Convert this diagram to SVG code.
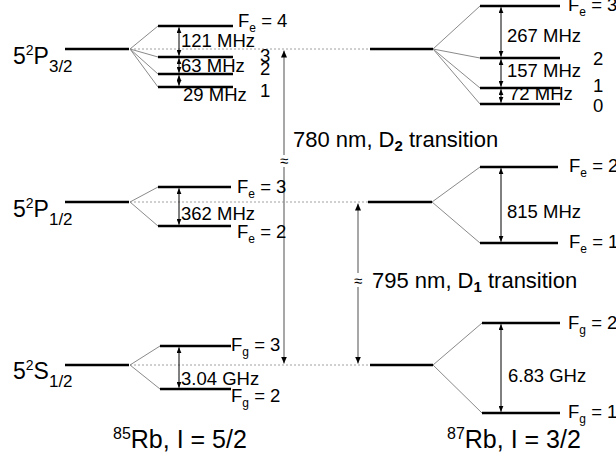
<svg xmlns="http://www.w3.org/2000/svg" width="616" height="461" viewBox="0 0 616 461">
<defs>
<marker id="ah" markerWidth="6" markerHeight="5" refX="6" refY="2.5" orient="auto-start-reverse" markerUnits="userSpaceOnUse"><path d="M0,0L6,2.5L0,5z" fill="#000"/></marker>
<marker id="ahg" markerWidth="7" markerHeight="6" refX="7" refY="3" orient="auto-start-reverse" markerUnits="userSpaceOnUse"><path d="M0,0L7,3L0,6z" fill="#000"/></marker>
</defs>
<style>
text{font-family:"Liberation Sans",Arial,sans-serif;fill:#000}
.lvl{stroke:#000;stroke-width:2.5}
.fan{stroke:#8a8a8a;stroke-width:1;fill:none}
.dot{stroke:#a0a0a0;stroke-width:1;stroke-dasharray:2,2}
.arr{stroke:#000;stroke-width:1;fill:none;marker-start:url(#ah);marker-end:url(#ah)}
.long{stroke:#8a8a8a;stroke-width:1.5;fill:none;marker-end:url(#ahg)}
.t{font-size:18.5px}
.big{font-size:23px}
.tr{font-size:22px}
.ap{font-size:15px}
</style>

<g id="connectors">
<line class="dot" x1="130" y1="49" x2="370" y2="49"/>
<line class="dot" x1="130" y1="202" x2="368" y2="202"/>
<line class="dot" x1="130" y1="365" x2="370" y2="365"/>
<path class="long" d="M284,155 L284,50.5"/>
<path class="long" d="M284,167 L284,363.5"/>
<path class="long" d="M358,273 L358,203.5"/>
<path class="long" d="M358,287 L358,363.5"/>
</g>

<g id="rb85-P32">
<line class="lvl" x1="65" y1="49" x2="129" y2="49"/>
<path class="fan" d="M130,49L158,26M130,49L158,57M130,49L158,74M130,49L158,87"/>
<line class="lvl" x1="158" y1="26" x2="233" y2="26"/>
<line class="lvl" x1="158" y1="57" x2="233" y2="57"/>
<line class="lvl" x1="158" y1="74" x2="233" y2="74"/>
<line class="lvl" x1="158" y1="87" x2="233" y2="87"/>
<path class="arr" d="M179,27.3L179,55.7"/>
<path class="arr" d="M179,58.3L179,72.7"/>
<path class="arr" d="M179,75.3L179,85.7"/>
<text class="big" x="13" y="64">5<tspan font-size="14" dy="-9">2</tspan><tspan dy="9">P</tspan><tspan font-size="17" dy="8">3/2</tspan></text>
<text class="t" x="181" y="47">121 MHz</text>
<text class="t" x="181" y="72">63 MHz</text>
<text class="t" x="183" y="101">29 MHz</text>
<text class="t" x="238" y="27">F<tspan font-size="12" dy="5">e</tspan><tspan dy="-5"> = 4</tspan></text>
<text class="t" x="260" y="62">3</text>
<text class="t" x="260" y="75">2</text>
<text class="t" x="260" y="97">1</text>
</g>

<g id="rb85-P12">
<line class="lvl" x1="65" y1="202" x2="129" y2="202"/>
<path class="fan" d="M130,202L158,187M130,202L158,226"/>
<line class="lvl" x1="158" y1="187" x2="231" y2="187"/>
<line class="lvl" x1="158" y1="226" x2="231" y2="226"/>
<path class="arr" d="M179,188.3L179,224.7"/>
<text class="big" x="13" y="217">5<tspan font-size="14" dy="-9">2</tspan><tspan dy="9">P</tspan><tspan font-size="17" dy="8">1/2</tspan></text>
<text class="t" x="181" y="220">362 MHz</text>
<text class="t" x="237" y="193">F<tspan font-size="12" dy="5">e</tspan><tspan dy="-5"> = 3</tspan></text>
<text class="t" x="237" y="238">F<tspan font-size="12" dy="5">e</tspan><tspan dy="-5"> = 2</tspan></text>
</g>

<g id="rb85-S12">
<line class="lvl" x1="65" y1="365" x2="129" y2="365"/>
<path class="fan" d="M130,365L160,346M130,365L160,389"/>
<line class="lvl" x1="160" y1="346" x2="231" y2="346"/>
<line class="lvl" x1="160" y1="389" x2="231" y2="389"/>
<path class="arr" d="M179,347.3L179,387.7"/>
<text class="big" x="13" y="379">5<tspan font-size="14" dy="-9">2</tspan><tspan dy="9">S</tspan><tspan font-size="17" dy="8">1/2</tspan></text>
<text class="t" x="181" y="385">3.04 GHz</text>
<text class="t" x="231" y="351">F<tspan font-size="12" dy="5">g</tspan><tspan dy="-5"> = 3</tspan></text>
<text class="t" x="231" y="402">F<tspan font-size="12" dy="5">g</tspan><tspan dy="-5"> = 2</tspan></text>
</g>

<g id="rb87-P32">
<line class="lvl" x1="370" y1="49" x2="433" y2="49"/>
<path class="fan" d="M433,49L480,6M433,49L480,58M433,49L480,88M433,49L480,104"/>
<line class="lvl" x1="480" y1="6" x2="560" y2="6"/>
<line class="lvl" x1="480" y1="58" x2="560" y2="58"/>
<line class="lvl" x1="480" y1="88" x2="560" y2="88"/>
<line class="lvl" x1="480" y1="104" x2="560" y2="104"/>
<path class="arr" d="M501,7.3L501,56.7"/>
<path class="arr" d="M501,59.3L501,86.7"/>
<path class="arr" d="M501,89.3L501,102.7"/>
<text class="t" x="507" y="42">267 MHz</text>
<text class="t" x="507" y="77">157 MHz</text>
<text class="t" x="509" y="100">72 MHz</text>
<text class="t" x="568" y="11">F<tspan font-size="12" dy="5">e</tspan><tspan dy="-5"> = 3</tspan></text>
<text class="t" x="593" y="65">2</text>
<text class="t" x="593" y="92">1</text>
<text class="t" x="593" y="112">0</text>
</g>

<g id="rb87-P12">
<line class="lvl" x1="368" y1="202" x2="432" y2="202"/>
<path class="fan" d="M432,202L480,167M432,202L480,243"/>
<line class="lvl" x1="480" y1="167" x2="558" y2="167"/>
<line class="lvl" x1="480" y1="243" x2="558" y2="243"/>
<path class="arr" d="M501,168.3L501,241.7"/>
<text class="t" x="507" y="218">815 MHz</text>
<text class="t" x="569" y="172">F<tspan font-size="12" dy="5">e</tspan><tspan dy="-5"> = 2</tspan></text>
<text class="t" x="569" y="248">F<tspan font-size="12" dy="5">e</tspan><tspan dy="-5"> = 1</tspan></text>
</g>

<g id="rb87-S12">
<line class="lvl" x1="370" y1="365" x2="433" y2="365"/>
<path class="fan" d="M433,365L482,323M433,365L482,413"/>
<line class="lvl" x1="482" y1="323" x2="560" y2="323"/>
<line class="lvl" x1="482" y1="413" x2="560" y2="413"/>
<path class="arr" d="M501,324.3L501,411.7"/>
<text class="t" x="508" y="382">6.83 GHz</text>
<text class="t" x="568" y="329">F<tspan font-size="12" dy="5">g</tspan><tspan dy="-5"> = 2</tspan></text>
<text class="t" x="568" y="418">F<tspan font-size="12" dy="5">g</tspan><tspan dy="-5"> = 1</tspan></text>
</g>

<g id="d2-label">
<text class="ap" x="284" y="166" text-anchor="middle">≈</text>
<text class="tr" x="293" y="147">780 nm, D<tspan font-size="15" font-weight="bold" dy="4">2</tspan><tspan dy="-4"> transition</tspan></text>
</g>
<g id="d1-label">
<text class="ap" x="358" y="286" text-anchor="middle">≈</text>
<text class="tr" x="372" y="288">795 nm, D<tspan font-size="15" font-weight="bold" dy="4">1</tspan><tspan dy="-4"> transition</tspan></text>
</g>

<g id="isotope-labels">
<text x="113" y="448" font-size="25"><tspan font-size="16" dy="-9">85</tspan><tspan dy="9">Rb, I = 5/2</tspan></text>
<text x="447" y="448" font-size="25"><tspan font-size="16" dy="-9">87</tspan><tspan dy="9">Rb, I = 3/2</tspan></text>
</g>
</svg>
